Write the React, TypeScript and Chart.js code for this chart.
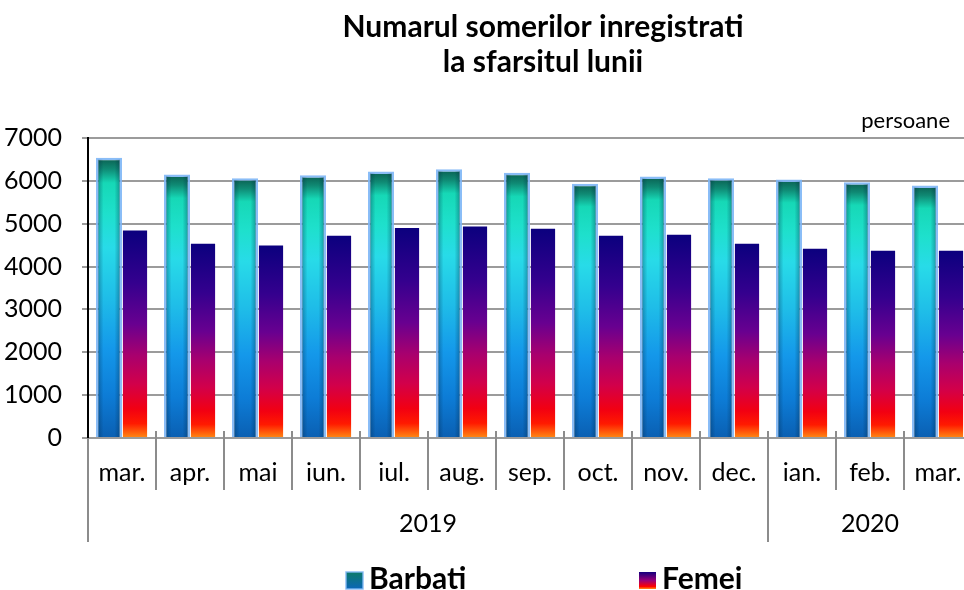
import React, { useEffect, useRef } from "react";
import { Chart, registerables } from "chart.js";

Chart.register(...registerables);

const months = ["mar.", "apr.", "mai", "iun.", "iul.", "aug.", "sep.", "oct.", "nov.", "dec.", "ian.", "feb.", "mar."];
const years = ["2019", "2020"];
const yearSpans = [10, 3];
const barbati = [6540, 6150, 6060, 6130, 6220, 6270, 6190, 5930, 6100, 6060, 6030, 5970, 5890];
const femei = [4840, 4530, 4490, 4720, 4900, 4935, 4880, 4720, 4740, 4530, 4415, 4370, 4370];
const seriesNames = ["Barbati", "Femei"];
const titleLines = ["Numarul somerilor inregistrati", "la sfarsitul lunii"];
const unitLabel = "persoane";
const yTicks = [0, 1000, 2000, 3000, 4000, 5000, 6000, 7000];

const FONT = "Lato, 'Open Sans', sans-serif";

const barbatiStops: [number, string][] = [
  [0, "#0a5e50"],
  [0.04, "#0f8a74"],
  [0.09, "#16d8b6"],
  [0.2, "#1ee0cc"],
  [0.32, "#28dbe8"],
  [0.5, "#1fbde8"],
  [0.68, "#1498ea"],
  [0.85, "#0d7cd6"],
  [1, "#0a5fb2"],
];
const femeiStops: [number, string][] = [
  [0, "#0b007e"],
  [0.25, "#34008e"],
  [0.45, "#680090"],
  [0.6, "#a8006e"],
  [0.74, "#d2004a"],
  [0.86, "#f20012"],
  [0.93, "#ff1a00"],
  [1, "#ff8c14"],
];

function makeBarGradient(stops: [number, string][], fallback: string) {
  return (c: any) => {
    const chart = c.chart;
    if (!chart.chartArea || c.type !== "data") return fallback;
    const y = chart.scales.y;
    const top = y.getPixelForValue(c.raw);
    const base = y.getPixelForValue(0);
    if (!isFinite(top) || !isFinite(base) || top === base) return fallback;
    const g = chart.ctx.createLinearGradient(0, top, 0, base);
    stops.forEach(([o, col]) => g.addColorStop(o, col));
    return g;
  };
}

const decorPlugin = {
  id: "decor",
  afterDatasetDraw(chart: any, args: any) {
    if (args.index !== 0) return;
    const ctx = chart.ctx;
    const meta = chart.getDatasetMeta(0);
    ctx.save();
    meta.data.forEach((el: any) => {
      const p = el.getProps(["x", "y", "base", "width"], true);
      const l = p.x - p.width / 2 + 2;
      const r = p.x + p.width / 2 - 2;
      const g = ctx.createLinearGradient(l, 0, r, 0);
      g.addColorStop(0, "rgba(0,40,70,0.35)");
      g.addColorStop(0.25, "rgba(0,40,70,0)");
      g.addColorStop(0.75, "rgba(0,40,70,0)");
      g.addColorStop(1, "rgba(0,40,70,0.35)");
      ctx.fillStyle = g;
      ctx.fillRect(l, p.y + 2, r - l, p.base - p.y - 2);
    });
    ctx.restore();
  },
  afterDraw(chart: any) {
    const ctx = chart.ctx;
    const x = chart.scales.x;
    const area = chart.chartArea;
    const n = months.length;
    const cw = (x.right - x.left) / n;
    ctx.save();
    // title
    ctx.fillStyle = "#000";
    ctx.textAlign = "center";
    ctx.textBaseline = "alphabetic";
    ctx.font = `bold 30px ${FONT}`;
    ctx.fillText(titleLines[0], 543, 37);
    ctx.fillText(titleLines[1], 543, 72);
    // unit
    ctx.font = `22px ${FONT}`;
    ctx.textAlign = "right";
    ctx.fillText(unitLabel, 950, 128);
    // month labels
    ctx.textAlign = "center";
    ctx.font = `25px ${FONT}`;
    months.forEach((m, i) => {
      ctx.fillText(m, x.getPixelForValue(i), 481);
    });
    // dividers
    ctx.strokeStyle = "#8c8c8c";
    ctx.lineWidth = 2;
    for (let i = 1; i < n; i++) {
      const px = Math.round(x.left + i * cw);
      ctx.beginPath();
      ctx.moveTo(px, area.bottom - 7);
      ctx.lineTo(px, 490);
      ctx.stroke();
    }
    // year groups
    let start = 0;
    years.forEach((yr, gi) => {
      const l = x.left + start * cw;
      const r = x.left + (start + yearSpans[gi]) * cw;
      ctx.beginPath();
      ctx.moveTo(Math.round(l), area.bottom);
      ctx.lineTo(Math.round(l), 542);
      ctx.stroke();
      ctx.fillText(yr, (l + r) / 2, 532);
      start += yearSpans[gi];
    });
    // legend
    const items = [
      { x: 346, border: true },
      { x: 639, border: false },
    ];
    ctx.textAlign = "left";
    ctx.font = `bold 30px ${FONT}`;
    items.forEach((it, i) => {
      const sy = 572;
      const s = 17;
      const g = ctx.createLinearGradient(0, sy, 0, sy + s);
      if (it.border) {
        g.addColorStop(0, "#0d7a6a");
        g.addColorStop(1, "#0b66b8");
      } else {
        g.addColorStop(0, "#14007e");
        g.addColorStop(0.5, "#9a0078");
        g.addColorStop(0.85, "#ff0000");
        g.addColorStop(1, "#ff8c14");
      }
      ctx.fillStyle = g;
      ctx.fillRect(it.x, sy, s, s);
      if (it.border) {
        ctx.strokeStyle = "rgba(130,185,245,0.9)";
        ctx.lineWidth = 1.5;
        ctx.strokeRect(it.x, sy, s, s);
      }
      ctx.fillStyle = "#000";
      ctx.fillText(seriesNames[i], it.x + 23, 589);
    });
    ctx.restore();
  },
};

export default function App() {
  const ref = useRef<HTMLCanvasElement | null>(null);
  useEffect(() => {
    if (!ref.current) return;
    const chart = new Chart(ref.current, {
      type: "bar",
      data: {
        labels: months,
        datasets: [
          {
            label: seriesNames[0],
            data: barbati,
            backgroundColor: makeBarGradient(barbatiStops, "#1fbde8"),
            borderColor: "rgba(125,182,246,0.9)",
            borderWidth: 2.5,
            barPercentage: 1.0,
            categoryPercentage: 0.765,
          },
          {
            label: seriesNames[1],
            data: femei,
            backgroundColor: makeBarGradient(femeiStops, "#680090"),
            borderWidth: 0,
            barPercentage: 0.93,
            categoryPercentage: 0.765,
          },
        ],
      },
      options: {
        animation: false,
        responsive: false,
        maintainAspectRatio: false,
        devicePixelRatio: 1,
        layout: { padding: { left: 0, top: 138, right: 8, bottom: 152 } },
        plugins: {
          legend: { display: false },
          title: { display: false },
          tooltip: { enabled: false },
        },
        scales: {
          x: { display: false },
          y: {
            min: 0,
            max: 7000,
            afterFit(scale: any) {
              scale.width = 88;
            },
            afterBuildTicks(scale: any) {
              scale.ticks = yTicks.map((v) => ({ value: v }));
            },
            ticks: {
              color: "#000",
              font: { family: FONT, size: 25 },
              padding: 20,
              callback: (v: any) => String(v),
            },
            grid: {
              color: "#9b9b9b",
              lineWidth: 2,
              tickLength: 6,
              tickColor: "#9b9b9b",
            },
            border: { display: true, color: "#000", width: 2 },
          },
        },
      },
      plugins: [decorPlugin],
    });
    return () => chart.destroy();
  }, []);
  return (
    <div style={{ position: "absolute", left: 0, top: 0, width: 964, height: 590, overflow: "hidden", background: "#fff" }}>
      <canvas ref={ref} width={980} height={590} style={{ width: 980, height: 590, display: "block" }} />
    </div>
  );
}
